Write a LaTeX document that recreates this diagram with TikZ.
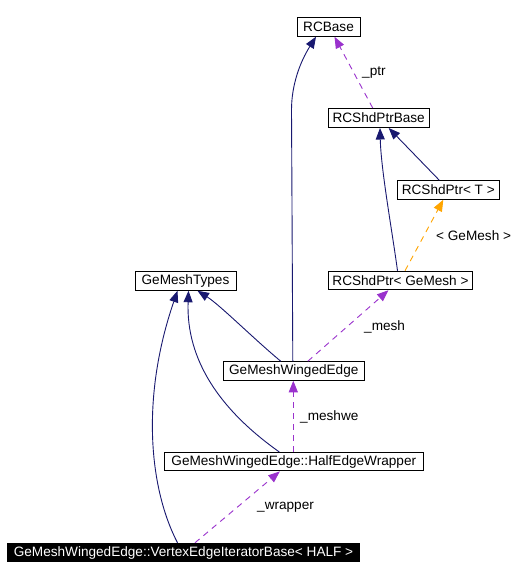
\documentclass[tikz,border=0pt]{standalone}
\usepackage{fontspec}
\setmainfont{Liberation Sans}
\usetikzlibrary{arrows.meta}
\definecolor{navy}{HTML}{191970}
\definecolor{purp}{HTML}{9A32CD}
\definecolor{orng}{HTML}{FFA500}
\begin{document}
\begin{tikzpicture}[x=1pt,y=-1pt,
  box/.style={draw=black,fill=white,line width=1pt,inner sep=0pt,minimum height=18.5pt,
    font=\fontsize{13.6}{15}\selectfont},
  tip/.style={-{Triangle[length=11.5pt,width=9pt]}},
  inh/.style={navy,line width=0.9pt,tip},
  use/.style={purp,line width=0.9pt,dash pattern=on 6pt off 5pt,tip},
  tmpl/.style={orng,line width=0.9pt,dash pattern=on 6pt off 5pt,tip},
  lab/.style={font=\fontsize{13.6}{15}\selectfont,inner sep=0pt,anchor=west}
]
\useasboundingbox[fill=white] (0,0) rectangle (526,580);

\node[box,minimum width=63pt] (rcbase) at (328.5,27) {RCBase};
\node[box,minimum width=101pt,minimum height=19pt] (shdbase) at (378.7,118) {RCShdPtrBase};
\node[box,minimum width=102pt] (shdT) at (448.3,190) {RCShdPtr< T >};
\node[box,minimum width=144pt] (shdG) at (400.5,280.5) {RCShdPtr< GeMesh >};
\node[box,minimum width=101pt] (types) at (185.5,281) {GeMeshTypes};
\node[box,minimum width=141pt] (winged) at (293.8,371) {GeMeshWingedEdge};
\node[box,minimum width=259pt] (wrapper) at (293.8,461.7) {GeMeshWingedEdge::HalfEdgeWrapper};
\node[box,minimum width=352pt,fill=black,text=white] (veib) at (183.5,552.5) {GeMeshWingedEdge::VertexEdgeIteratorBase< HALF >};

% inheritance (solid navy)
\draw[inh] ([xshift=-1pt]winged.north) -- (291.5,110) .. controls (291.5,85) and (300,62) .. ([xshift=-12.5pt]rcbase.south);
\draw[inh] ([xshift=-3pt]shdG.north) .. controls (392,230) and (381,170) .. ([xshift=1.3pt]shdbase.south);
\draw[inh] ([xshift=-9pt]shdT.north) -- ([xshift=10pt]shdbase.south);
\draw[inh] ([xshift=-13pt]winged.north) .. controls (255,340) and (220,305) .. ([xshift=12pt]types.south);
\draw[inh] ([xshift=-14.5pt]wrapper.north) .. controls (220,410) and (186,360) .. ([xshift=3pt]types.south);
\draw[inh] ([xshift=-6pt]veib.north) .. controls (150,490) and (140,400) .. ([xshift=-8pt]types.south);

% usage (dashed purple)
\draw[use] ([xshift=-6pt]shdbase.north) -- ([xshift=6pt]rcbase.south);
\node[lab] (lptr) at (362,73) {\_ptr};
\draw[use] ([xshift=14pt]winged.north) -- ([xshift=-12pt]shdG.south);
\node[lab] (lmesh) at (364,327) {\_mesh};
\draw[use] ([xshift=-0.5pt]wrapper.north) -- ([xshift=-0.5pt]winged.south);
\node[lab] (lmeshwe) at (300,417) {\_meshwe};
\draw[use] ([xshift=11.5pt]veib.north) -- ([xshift=-14pt]wrapper.south);
\node[lab] (lwrapper) at (257,507) {\_wrapper};

% template instance (dashed orange)
\draw[tmpl] ([xshift=4.5pt]shdG.north) -- ([xshift=-5pt]shdT.south);
\node[lab] (lgemesh) at (436,236) {< GeMesh >};
\end{tikzpicture}
\end{document}
